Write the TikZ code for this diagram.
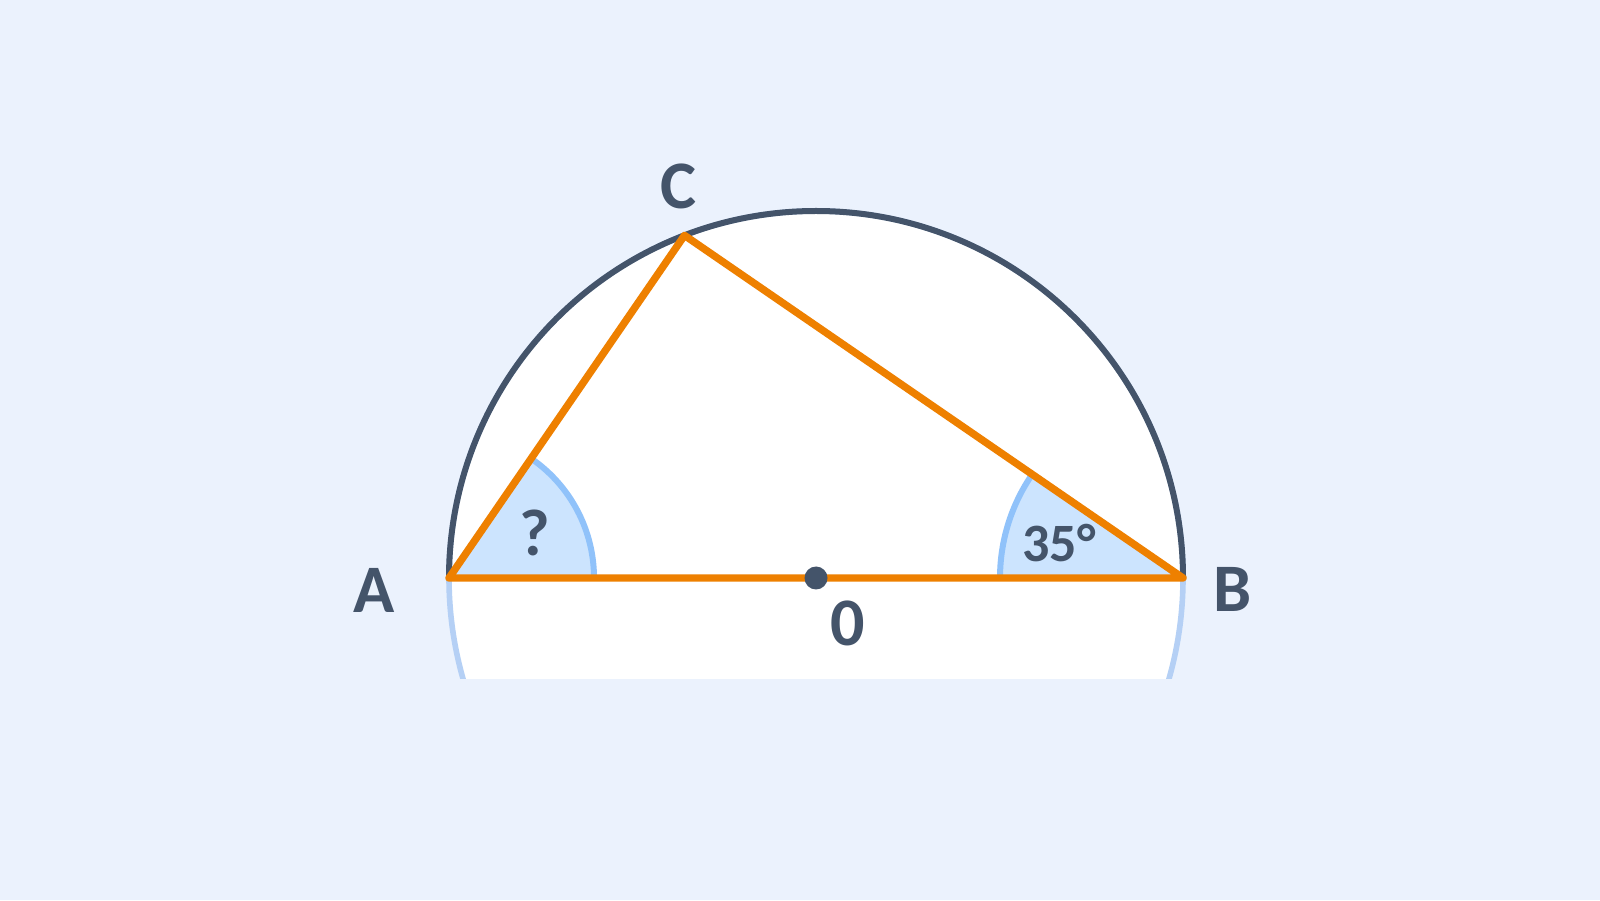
\documentclass[tikz,border=0pt]{standalone}
\usepackage{fontspec}
\setmainfont{Carlito}
\usetikzlibrary{calc}
\begin{document}
\begin{tikzpicture}[x=0.5pt,y=0.5pt,
  lbl/.style={text=darkc,font=\fontsize{34}{40}\selectfont\bfseries,inner sep=0pt},
  anglbl/.style={text=darkc,font=\fontsize{27}{32}\selectfont\bfseries,inner sep=0pt},
  tri/.style={draw=orangec,line width=3.7pt,line join=round,line cap=round},
  wedgefill/.style={fill=wedgec},
  wedgearc/.style={draw=wedgeline,line width=3pt}]
\definecolor{bgc}{HTML}{EBF2FD}
\definecolor{darkc}{HTML}{44546A}
\definecolor{orangec}{HTML}{EE8000}
\definecolor{wedgec}{HTML}{CCE4FE}
\definecolor{wedgeline}{HTML}{90C2FA}
\definecolor{lightc}{HTML}{B5D0F5}
\useasboundingbox (0,0) rectangle (1600,900);
\fill[bgc] (0,0) rectangle (1600,900);
\coordinate (O) at (816,322);
\coordinate (A) at (449,322);
\coordinate (B) at (1183,322);
\coordinate (C) at ($(O)+(111:367)$);
\begin{scope}
\clip (0,222) rectangle (1600,900);
\draw[fill=white,draw=lightc,line width=2.8pt] (O) circle[radius=367];
\end{scope}
\draw[darkc,line width=3pt] (B) arc[start angle=0,end angle=180,radius=367];
% wedges
\fill[wedgefill] (A) -- ++(0:145) arc[start angle=0,end angle=55.5,radius=145] -- cycle;
\draw[wedgearc] ($(A)+(0:145)$) arc[start angle=0,end angle=55.5,radius=145];
\fill[wedgefill] (B) -- ++(145.5:183) arc[start angle=145.5,end angle=180,radius=183] -- cycle;
\draw[wedgearc] ($(B)+(145.5:183)$) arc[start angle=145.5,end angle=180,radius=183];
% triangle
\draw[tri] (A) -- (C) -- (B) -- cycle;
\fill[darkc] (O) circle[radius=11.5];
% labels
\node[anglbl,font=\fontsize{33}{38}\selectfont\bfseries] (q) at (535,367) {?};
\node[anglbl] (ang) at (1059,357) {35°};
\node[lbl] (lc) at (678,714) {C};
\node[lbl] (la) at (374,310) {A};
\node[lbl] (lb) at (1233,311) {B};
\node[lbl] (lo) at (848,277) {0};
\end{tikzpicture}
\end{document}
